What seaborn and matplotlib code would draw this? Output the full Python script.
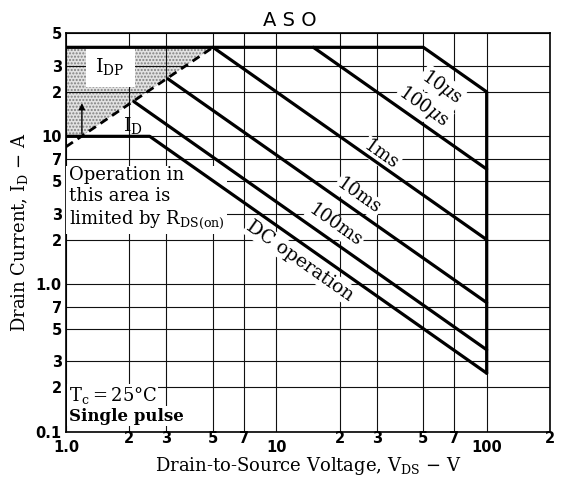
"""
ASO (area of safe operation) chart, drain current vs drain-source voltage.
"""
import numpy as np
import matplotlib
matplotlib.use('Agg')
import matplotlib.pyplot as plt
import seaborn as sns

# ── Data ──────────────────────────────────────────────────────────────────────
# outer envelope: I_DP limit, 10us line, V_DSS limit
env_v = [1, 50, 100, 100]
env_i = [40, 40, 20, 0.25]
# DC operation (I_D limit then 25 W line)
dc_v = [1, 2.5, 100]
dc_i = [10, 10, 0.25]
ms100_v = [2.1, 100]
ms100_i = [17.2, 0.36]
ms10_v = [3.05, 100]
ms10_i = [24.5, 0.75]
ms1_v = [5, 100]
ms1_i = [40, 2.0]
us100_v = [15, 100]
us100_i = [40, 6.0]
# R_DS(on) limit (dashed)
rds_v = [1, 5]
rds_i = [8.5, 40]

x_major = [1, 10, 100]
x_major_lbl = ['1.0', '10', '100']
x_minor = [2, 3, 5, 7, 20, 30, 50, 70, 200]
x_minor_lbl = ['2', '3', '5', '7', '2', '3', '5', '7', '2']
y_major = [0.1, 1, 10]
y_major_lbl = ['0.1', '1.0', '10']
y_minor = [0.2, 0.3, 0.5, 0.7, 2, 3, 5, 7, 20, 30, 50]
y_minor_lbl = ['2', '3', '5', '7', '2', '3', '5', '7', '2', '3', '5']

# line labels: (text, x, y)
curve_labels = [
    ('10$\\mu$s', 61, 21.5),
    ('100$\\mu$s', 50, 15.9),
    ('1ms', 31.3, 7.45),
    ('10ms', 24.6, 3.92),
    ('100ms', 19.1, 2.51),
]

# ── Style ─────────────────────────────────────────────────────────────────────
sns.set_theme(style='white')
plt.rcParams['font.family'] = ['DejaVu Serif']
plt.rcParams['mathtext.fontset'] = 'dejavuserif'
for key in ['text.color', 'axes.labelcolor', 'xtick.color', 'ytick.color']:
    plt.rcParams[key] = 'black'

fig = plt.figure(figsize=(5.63, 4.83), dpi=100)
ax = fig.add_axes([66 / 563, 1 - 432 / 483, 484 / 563, 399 / 483])
ax.set_xscale('log')
ax.set_yscale('log')
ax.set_xlim(1, 200)
ax.set_ylim(0.1, 50)

LW = 2.3
for v, i in [(env_v, env_i), (dc_v, dc_i), (ms100_v, ms100_i),
             (ms10_v, ms10_i), (ms1_v, ms1_i), (us100_v, us100_i)]:
    sns.lineplot(x=v, y=i, ax=ax, color='black', lw=LW, sort=False,
                 estimator=None, zorder=4)
ax.plot(rds_v, rds_i, color='black', lw=2.0, ls=(0, (3, 2)), zorder=4)

# shaded area limited by R_DS(on)
k = np.log(rds_i[1] / rds_i[0]) / np.log(rds_v[1] / rds_v[0])
v_cross = rds_v[0] * (dc_i[0] / rds_i[0]) ** (1 / k)
ax.fill([rds_v[0], rds_v[0], rds_v[1], v_cross],
        [dc_i[0], env_i[0], env_i[0], dc_i[0]],
        facecolor='#e2e2e2', edgecolor='#808080', hatch='.....',
        lw=0, zorder=0.3)

# arrow in shaded area
ax.annotate('', xy=(1.19, 17.5), xytext=(1.19, 10),
            arrowprops=dict(arrowstyle='-|>', color='black', lw=1.0,
                            mutation_scale=9), zorder=4)

# grid and ticks
ax.set_xticks(x_major)
ax.set_xticklabels(x_major_lbl)
ax.set_xticks(x_minor, minor=True)
ax.set_xticklabels(x_minor_lbl, minor=True)
ax.set_yticks(y_major)
ax.set_yticklabels(y_major_lbl)
ax.set_yticks(y_minor, minor=True)
ax.set_yticklabels(y_minor_lbl, minor=True)
ax.grid(True, which='both', color='#111111', lw=0.8)
ax.set_axisbelow(True)
ax.tick_params(axis='both', which='both', length=0, labelsize=10.5,
               labelcolor='black')
ax.tick_params(axis='x', which='major', pad=6)
ax.tick_params(axis='x', which='minor', pad=-1)
ax.tick_params(axis='y', which='both', pad=3)
for lbl in ax.get_xticklabels(which='both') + ax.get_yticklabels(which='both'):
    lbl.set_fontfamily('DejaVu Sans')
    lbl.set_fontweight('bold')
for sp in ax.spines.values():
    sp.set_color('black')
    sp.set_linewidth(1.2)

# angle of a constant-power line on screen
p1 = ax.transData.transform((10, 1))
p2 = ax.transData.transform((100, 0.1))
ang = np.degrees(np.arctan2(p2[1] - p1[1], p2[0] - p1[0]))

box = dict(facecolor='white', edgecolor='none', pad=1.0)
for txt, x, y in curve_labels:
    ax.text(x, y, txt, rotation=ang, ha='center', va='center',
            fontsize=13, bbox=box, zorder=3)
ax.text(13, 1.43, 'DC operation', rotation=ang, ha='center', va='center',
        fontsize=13.5, bbox=box, zorder=3)

ax.text(1.62, 29.5, r'$\mathrm{I_{DP}}$', ha='center', va='center',
        fontsize=14, bbox=dict(facecolor='white', edgecolor='none', pad=7),
        zorder=3)
ax.text(2.08, 11.8, r'$\mathrm{I_D}$', ha='center', va='center',
        fontsize=14, zorder=3)

ax.text(1.03, 6.3, 'Operation in\nthis area is\nlimited by $\\mathrm{R_{DS(on)}}$',
        ha='left', va='top', fontsize=13, linespacing=1.2,
        bbox=dict(facecolor='white', edgecolor='none', pad=2), zorder=3)
ax.text(1.03, 0.176, '$\\mathrm{T_c}$$=$25°C', ha='left', va='center',
        fontsize=13, bbox=dict(facecolor='white', edgecolor='none', pad=1),
        zorder=3)
ax.text(1.03, 0.128, 'Single pulse', ha='left', va='center',
        fontsize=12, fontweight='bold',
        bbox=dict(facecolor='white', edgecolor='none', pad=1), zorder=3)

ax.set_xlabel('Drain-to-Source Voltage, $\\mathrm{V_{DS}}$ − V',
              fontsize=13, labelpad=0)
ax.set_ylabel('Drain Current, $\\mathrm{I_D}$ − A', fontsize=13, labelpad=4)

fig.text(290 / 563, 1 - 21 / 483, 'A S O', ha='center', va='center',
         family='DejaVu Sans', fontsize=14)

fig.savefig('out.png', dpi=100)
